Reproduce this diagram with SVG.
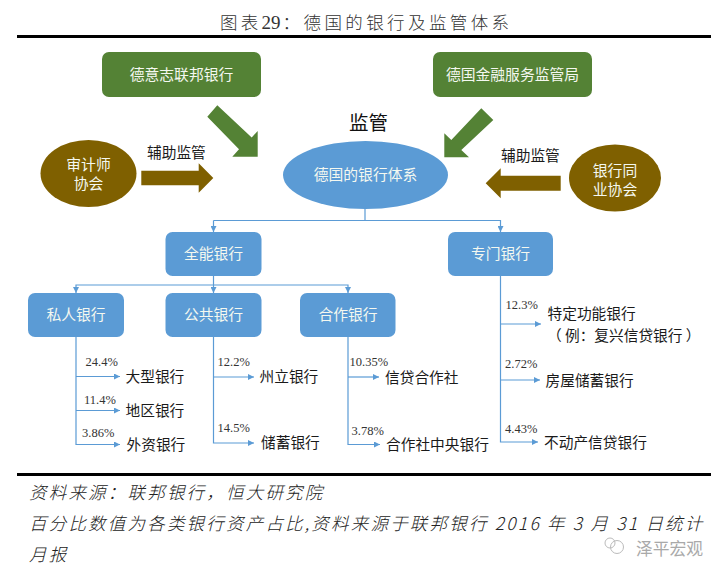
<svg xmlns="http://www.w3.org/2000/svg" width="728" height="579" viewBox="0 0 728 579">
<style>
text{font-family:"Noto Sans CJK SC","Noto Sans",sans-serif}
.w{fill:#f4f8f0;font-size:14.8px;text-anchor:middle}
.k{fill:#1a1a1a;font-size:14.7px}
.p{font-family:"Liberation Serif",serif;font-size:12.5px;fill:#333}
.f{font-size:17.5px;font-style:italic;fill:#222;font-weight:300;letter-spacing:2.2px}
.c{fill:none;stroke:#5b9bd5;stroke-width:1.2}
.b{fill:#5b9bd5}
.g{fill:#548235}
.o{fill:#7f6000}
</style>
<defs><marker id="a" markerWidth="7" markerHeight="6" refX="6" refY="3" orient="auto" markerUnits="userSpaceOnUse"><path d="M0 0L6 3L0 6Z" fill="#5b9bd5"/></marker></defs>
<rect width="728" height="579" fill="#fff"/>
<text x="220" y="29" font-size="17.5" fill="#333" font-weight="300"><tspan letter-spacing="3.3">图表</tspan><tspan letter-spacing="0" font-family="Liberation Serif" font-size="19">29</tspan><tspan letter-spacing="3.4" dx="2">：德国的银行及监管体系</tspan></text>
<rect x="17" y="35" width="694" height="3" fill="#000"/>
<rect x="17" y="473" width="694" height="3" fill="#000"/>
<g id="connectors">
<path class="c" d="M365 209V220.500H213.500" /><path class="c" d="M213.500 220.500V232" marker-end="url(#a)"/><path class="c" d="M365 220.500H500.500V232" marker-end="url(#a)"/>
<path class="c" d="M213.500 276V293" marker-end="url(#a)"/><path class="c" d="M213.500 285H76V293" marker-end="url(#a)"/><path class="c" d="M213.500 285H348V293" marker-end="url(#a)"/>
<path class="c" d="M76 337V444.500H120" marker-end="url(#a)"/><path class="c" d="M76 376.500H120" marker-end="url(#a)"/><path class="c" d="M76 410.500H120" marker-end="url(#a)"/>
<path class="c" d="M213.500 337V443H254" marker-end="url(#a)"/><path class="c" d="M213.500 377H254" marker-end="url(#a)"/>
<path class="c" d="M348 337V444.500H380" marker-end="url(#a)"/><path class="c" d="M348 377H379" marker-end="url(#a)"/>
<path class="c" d="M500.500 276V442H538" marker-end="url(#a)"/><path class="c" d="M500.500 324H541" marker-end="url(#a)"/><path class="c" d="M500.500 380H540" marker-end="url(#a)"/>
<polygon class="g" points="207.300,116.700 217.300,105.300 251.700,137.500 257.700,131 257.700,156.700 232.300,156.700 239,149.300"/>
<polygon class="g" points="481.300,108.300 493.300,120 461.300,150 469,157.300 444.300,157.300 444.300,133.300 451.300,140"/>
<polygon class="o" points="141.300,170.700 198.700,170.700 198.700,163.300 213.300,178 198.700,192.700 198.700,185.300 141.300,185.300"/>
<polygon class="o" points="560.700,175.700 500.700,175.700 500.700,168.300 485.700,183.300 500.700,198.300 500.700,190.700 560.700,190.700"/>
</g>
<g id="n1"><rect class="g" x="102" y="52" width="159" height="45" rx="7"/><text class="w" x="181.500" y="80">德意志联邦银行</text></g>
<g id="n2"><rect class="g" x="433" y="52" width="159" height="45" rx="7"/><text class="w" x="512.500" y="80">德国金融服务监管局</text></g>
<g id="n3"><ellipse class="o" cx="88.500" cy="173.500" rx="48" ry="33.500"/><text class="w" x="88.500" y="170">审计师</text><text class="w" x="88.500" y="189">协会</text></g>
<g id="n4"><ellipse class="o" cx="615" cy="178" rx="46" ry="33.500"/><text class="w" x="615" y="176">银行同</text><text class="w" x="615" y="195">业协会</text></g>
<g id="n5"><ellipse class="b" cx="365.500" cy="175" rx="82.500" ry="34"/><text class="w" x="365.500" y="180">德国的银行体系</text></g>
<g id="n6"><rect class="b" x="165.500" y="232" width="96" height="44" rx="7"/><text class="w" x="213.500" y="259">全能银行</text></g>
<g id="n7"><rect class="b" x="448" y="232" width="105" height="44" rx="7"/><text class="w" x="500.500" y="259">专门银行</text></g>
<g id="n8"><rect class="b" x="28" y="293" width="96" height="44" rx="7"/><text class="w" x="76" y="320">私人银行</text></g>
<g id="n9"><rect class="b" x="165.500" y="293" width="96" height="44" rx="7"/><text class="w" x="213.500" y="320">公共银行</text></g>
<g id="n10"><rect class="b" x="300" y="293" width="95.500" height="44" rx="7"/><text class="w" x="348" y="320">合作银行</text></g>
<text x="349" y="130" font-size="19.500" fill="#111">监管</text>
<text class="k" x="147" y="158">辅助监管</text>
<text class="k" x="501" y="161">辅助监管</text>
<text class="k" x="125.500" y="382">大型银行</text>
<text class="k" x="125.500" y="416">地区银行</text>
<text class="k" x="126.500" y="450">外资银行</text>
<text class="k" x="259.500" y="382">州立银行</text>
<text class="k" x="261" y="448">储蓄银行</text>
<text class="k" x="385" y="383">信贷合作社</text>
<text class="k" x="386" y="450">合作社中央银行</text>
<text class="k" x="547.500" y="319">特定功能银行</text>
<text class="k" x="547" y="341">（ 例：复兴信贷银行 ）</text>
<text class="k" x="545.500" y="386">房屋储蓄银行</text>
<text class="k" x="544" y="448">不动产信贷银行</text>
<text class="p" x="85.500" y="366">24.4%</text>
<text class="p" x="84" y="404">11.4%</text>
<text class="p" x="82" y="437">3.86%</text>
<text class="p" x="217.500" y="366">12.2%</text>
<text class="p" x="217.500" y="432">14.5%</text>
<text class="p" x="349.500" y="366">10.35%</text>
<text class="p" x="351.500" y="435">3.78%</text>
<text class="p" x="505.500" y="309">12.3%</text>
<text class="p" x="505" y="368">2.72%</text>
<text class="p" x="505" y="433">4.43%</text>
<text class="f" x="29" y="499">资料来源：联邦银行，恒大研究院</text>
<text class="f" x="29" y="530">百分比数值为各类银行资产占比,资料来源于联邦银行 2016 年 3 月 31 日统计</text>
<text class="f" x="29" y="561">月报</text>
<g id="watermark"><circle cx="617" cy="547" r="6.500" fill="none" stroke="#bbb"/><circle cx="610" cy="543" r="5" fill="none" stroke="#bbb"/><text x="636" y="555" font-size="16.800" fill="#a9a9a9">泽平宏观</text></g>
</svg>
